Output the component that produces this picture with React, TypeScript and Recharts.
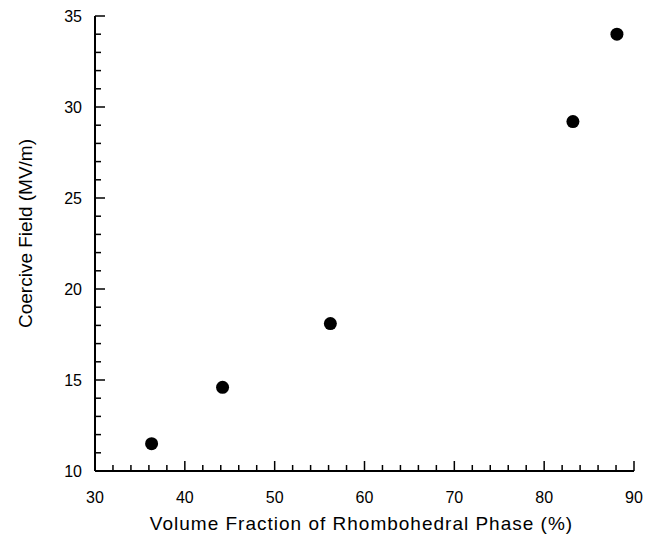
import React from "react";
import { ScatterChart, Scatter, XAxis, YAxis } from "recharts";

// values
const volumeFraction = [36.3, 44.2, 56.2, 83.2, 88.1];
const coerciveField = [11.5, 14.6, 18.1, 29.2, 34.0];

const xMajor = [30, 40, 50, 60, 70, 80, 90];
const xTicks = [
  30, 32, 34, 36, 38, 40, 42, 44, 46, 48, 50, 52, 54, 56, 58, 60,
  62, 64, 66, 68, 70, 72, 74, 76, 78, 80, 82, 84, 86, 88, 90,
];
const yMajor = [10, 15, 20, 25, 30, 35];
const yTicks = [
  10, 11, 12, 13, 14, 15, 16, 17, 18, 19, 20, 21, 22, 23, 24, 25,
  26, 27, 28, 29, 30, 31, 32, 33, 34, 35,
];

const data = volumeFraction.map((v, i) => ({ x: v, y: coerciveField[i] }));

const FONT = "'Liberation Sans', Arial, sans-serif";
const MAJOR = 10;
const MINOR = 6;

const BottomTick = (props: any) => {
  const { x, y, payload } = props;
  const major = xMajor.includes(payload.value);
  return (
    <g>
      <line x1={x} y1={y} x2={x} y2={y - (major ? MAJOR : MINOR)} stroke="#000" strokeWidth={1.5} />
      {major && (
        <text x={x} y={y + 32} textAnchor="middle" fontSize={16} fontFamily={FONT} fill="#000">
          {payload.value}
        </text>
      )}
    </g>
  );
};

const TopTick = (props: any) => {
  const { x, y, payload } = props;
  const major = xMajor.includes(payload.value);
  return <line x1={x} y1={y} x2={x} y2={y + (major ? MAJOR : MINOR)} stroke="#000" strokeWidth={1.5} />;
};

const LeftTick = (props: any) => {
  const { x, y, payload } = props;
  const major = yMajor.includes(payload.value);
  return (
    <g>
      <line x1={x} y1={y} x2={x + (major ? MAJOR : MINOR)} y2={y} stroke="#000" strokeWidth={1.5} />
      {major && (
        <text x={x - 13} y={y + 6} textAnchor="end" fontSize={16} fontFamily={FONT} fill="#000">
          {payload.value}
        </text>
      )}
    </g>
  );
};

const RightTick = (props: any) => {
  const { x, y, payload } = props;
  const major = yMajor.includes(payload.value);
  return <line x1={x} y1={y} x2={x - (major ? MAJOR : MINOR)} y2={y} stroke="#000" strokeWidth={1.5} />;
};

const axisLine = { stroke: "#000", strokeWidth: 2 };

export default function App() {
  return (
    <div style={{ position: "absolute", left: 0, top: 0, background: "#fff" }}>
      <ScatterChart width={652} height={535} margin={{ top: 16, right: 18, bottom: 0, left: 0 }}>
        <XAxis
          xAxisId="b"
          type="number"
          dataKey="x"
          domain={[30, 90]}
          ticks={xTicks}
          interval={0}
          tickSize={0}
          tickMargin={0}
          tickLine={false}
          axisLine={axisLine}
          tick={<BottomTick />}
          height={64}
          label={{
            value: "Volume Fraction of Rhombohedral Phase (%)",
            position: "insideBottom",
            offset: 5,
            dx: -3,
            fontSize: 19,
            letterSpacing: 1,
            fontFamily: FONT,
            fill: "#000",
          }}
        />
        <XAxis
          xAxisId="t"
          orientation="top"
          type="number"
          dataKey="x"
          domain={[30, 90]}
          ticks={xTicks}
          interval={0}
          tickSize={0}
          tickMargin={0}
          tickLine={false}
          axisLine={axisLine}
          tick={<TopTick />}
          height={0}
        />
        <YAxis
          yAxisId="l"
          type="number"
          dataKey="y"
          domain={[10, 35]}
          ticks={yTicks}
          interval={0}
          tickSize={0}
          tickMargin={0}
          tickLine={false}
          axisLine={axisLine}
          tick={<LeftTick />}
          width={95}
          label={{
            value: "Coercive Field (MV/m)",
            angle: -90,
            position: "insideLeft",
            offset: 25,
            dy: -10,
            fontSize: 19,
            fontFamily: FONT,
            fill: "#000",
            style: { textAnchor: "middle" },
          }}
        />
        <YAxis
          yAxisId="r"
          orientation="right"
          type="number"
          dataKey="y"
          domain={[10, 35]}
          ticks={yTicks}
          interval={0}
          tickSize={0}
          tickMargin={0}
          tickLine={false}
          axisLine={axisLine}
          tick={<RightTick />}
          width={0}
        />
        <Scatter
          data={data}
          xAxisId="b"
          yAxisId="l"
          fill="#000"
          isAnimationActive={false}
          shape={(p: any) => <circle cx={p.cx} cy={p.cy} r={6.5} fill="#000" />}
        />
      </ScatterChart>
    </div>
  );
}
